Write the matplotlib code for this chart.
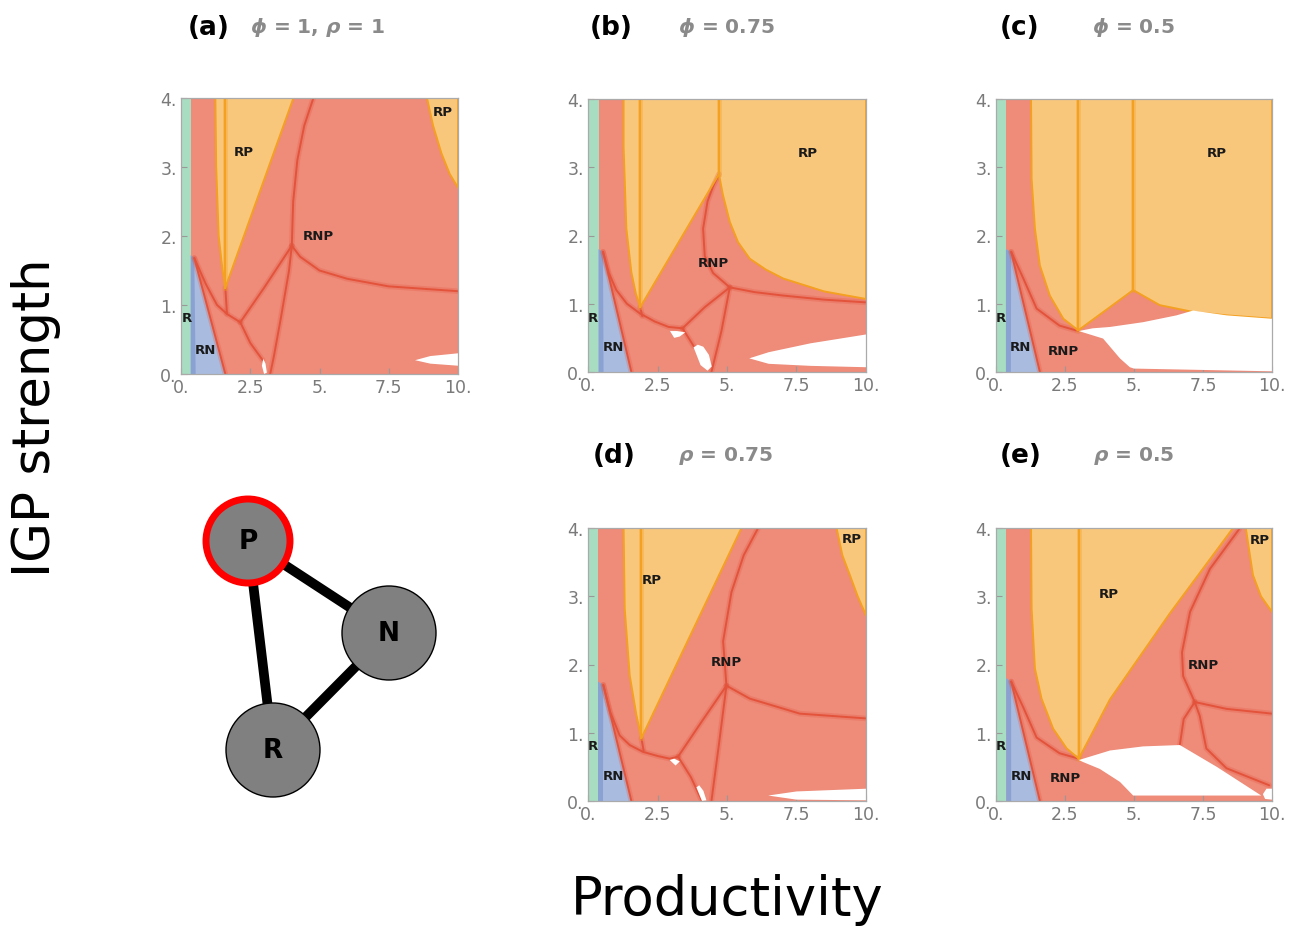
"""
Bifurcation maps of community states (R, RN, RP, RNP)
over productivity and IGP strength, plus the food web sketch.
"""
import matplotlib
matplotlib.use("Agg")
import matplotlib.pyplot as plt
from matplotlib.patches import Circle

plt.rcParams['mathtext.fontset'] = 'custom'
plt.rcParams['mathtext.it'] = 'DejaVu Sans:italic:bold'
plt.rcParams['mathtext.rm'] = 'DejaVu Sans:bold'

W, H = 1298, 929

# ---- colours -------------------------------------------------------------
RED = '#EE8B79'
RED_LINE = '#E3533B'
ORANGE = '#F9C77C'
ORANGE_LINE = '#F4A020'
GREEN = '#A8DDC1'
BLUE = '#A9BCE0'
BLUE_DARK = '#7592CA'

x_ticks = [0, 2.5, 5, 7.5, 10]
x_ticklabels = ['0.', '2.5', '5.', '7.5', '10.']
y_ticks = [0, 1, 2, 3, 4]
y_ticklabels = ['0.', '1.', '2.', '3.', '4.']

# ---- panel (a): phi = 1, rho = 1 -----------------------------------------
a_r_width = 0.35
a_rn = [(0.35, 0), (0.35, 1.72), (0.48, 1.68), (1.6, 0)]
a_rp = [
    [(1.24, 4), (1.27, 3.0), (1.36, 2.0), (1.5, 1.5), (1.6, 1.25), (4.06, 4)],
    [(8.88, 4), (9.1, 3.6), (9.4, 3.2), (9.7, 2.9), (10, 2.7), (10, 4)],
]
a_white = [
    [(2.92, 0.12), (2.97, 0.22), (3.05, 0.15), (3.1, 0.02), (3.0, 0.0)],
    [(8.45, 0.2), (9.0, 0.26), (10, 0.3), (10, 0.12), (9.0, 0.15)],
]
a_rp_lines = [[(1.6, 4), (1.6, 1.25)]]
a_rnp_lines = [
    [(0.48, 1.68), (0.9, 1.3), (1.3, 1.0), (1.66, 0.87), (2.14, 0.75)],
    [(1.6, 1.25), (1.66, 0.87)],
    [(2.14, 0.75), (2.5, 0.45), (2.95, 0.2)],
    [(2.14, 0.75), (3.0, 1.25), (4.0, 1.86)],
    [(4.0, 1.86), (4.05, 2.5), (4.2, 3.1), (4.45, 3.6), (4.78, 4)],
    [(4.0, 1.86), (3.9, 1.5), (3.6, 0.8), (3.35, 0.25), (3.22, 0)],
    [(4.0, 1.86), (4.3, 1.7), (5, 1.5), (6, 1.38), (7.5, 1.27), (10, 1.2)],
    [(0.48, 1.68), (1.6, 0)],
]
a_labels = [('RP', 2.26, 3.22), ('RP', 9.46, 3.8), ('RNP', 4.96, 2.0),
            ('R', 0.2, 0.82), ('RN', 0.88, 0.36)]

# ---- panel (b): phi = 0.75 -----------------------------------------------
b_r_width = 0.38
b_rn = [(0.38, 0), (0.38, 1.8), (0.54, 1.76), (1.56, 0)]
b_rp = [
    [(1.28, 4), (1.28, 3.3), (1.38, 2.1), (1.56, 1.46), (1.72, 1.15), (1.88, 0.95),
     (4.71, 2.9), (4.85, 2.6), (5.1, 2.2), (5.4, 1.9), (5.82, 1.66), (6.4, 1.5),
     (7.02, 1.37), (8.5, 1.18), (10, 1.07), (10, 4)],
]
b_white = [
    [(2.95, 0.6), (3.2, 0.6), (3.5, 0.58), (3.3, 0.52), (3.1, 0.5)],
    [(3.8, 0.36), (3.95, 0.4), (4.15, 0.37), (4.35, 0.25), (4.45, 0.08),
     (4.3, 0.02), (4.05, 0.1)],
    [(5.8, 0.2), (6.5, 0.29), (8, 0.42), (10, 0.55), (10, 0.07), (8, 0.09), (6.5, 0.12)],
]
b_rp_lines = [[(1.88, 4), (1.88, 0.95)], [(4.71, 4), (4.71, 2.9)]]
b_rnp_lines = [
    [(0.54, 1.76), (0.75, 1.45), (1.02, 1.2), (1.4, 1.0), (1.86, 0.86),
     (2.4, 0.74), (2.9, 0.66), (3.4, 0.64)],
    [(1.88, 0.95), (1.95, 0.82)],
    [(3.4, 0.64), (4.2, 0.95), (5.1, 1.24)],
    [(3.4, 0.64), (3.8, 0.38)],
    [(5.1, 1.24), (4.8, 0.6), (4.44, 0)],
    [(5.1, 1.24), (4.5, 1.45), (4.2, 1.7), (4.14, 2.1), (4.3, 2.5), (4.5, 2.72), (4.71, 2.9)],
    [(5.1, 1.24), (6, 1.17), (7.02, 1.12), (8.5, 1.06), (10, 1.02)],
    [(0.54, 1.76), (1.56, 0)],
]
b_labels = [('RP', 7.92, 3.22), ('RNP', 4.5, 1.61), ('R', 0.18, 0.8), ('RN', 0.9, 0.37)]

# ---- panel (c): phi = 0.5 ------------------------------------------------
c_r_width = 0.36
c_rn = [(0.36, 0), (0.36, 1.8), (0.55, 1.76), (1.59, 0)]
c_rp = [
    [(1.27, 4), (1.29, 2.83), (1.41, 2.1), (1.59, 1.56), (1.95, 1.12), (2.44, 0.78),
     (2.98, 0.61), (4.97, 1.2), (5.93, 0.98), (7.14, 0.88), (8.35, 0.83), (10, 0.78),
     (10, 4)],
]
c_white = [
    [(3.0, 0.6), (3.5, 0.64), (4.13, 0.66), (5.33, 0.73), (6.54, 0.83), (7.14, 0.9),
     (8.35, 0.83), (10, 0.78), (10, 0.01), (5.0, 0.05), (4.85, 0.07), (4.49, 0.2),
     (3.88, 0.49)],
]
c_rp_lines = [[(2.98, 4), (2.98, 0.61)], [(4.97, 4), (4.97, 1.2)]]
c_rnp_lines = [
    [(0.55, 1.76), (0.99, 1.37), (1.47, 0.93), (2.3, 0.68), (2.98, 0.6)],
    [(0.55, 1.76), (1.59, 0)],
]
c_labels = [('RP', 7.99, 3.22), ('RNP', 2.44, 0.32), ('R', 0.18, 0.8), ('RN', 0.87, 0.37)]

# ---- panel (d): rho = 0.75 -----------------------------------------------
d_r_width = 0.36
d_rn = [(0.36, 0), (0.36, 1.75), (0.55, 1.7), (1.56, 0)]
d_rp = [
    [(1.28, 4), (1.32, 2.82), (1.5, 1.84), (1.74, 1.26), (1.92, 0.92), (5.52, 4)],
    [(8.94, 4), (9.15, 3.6), (9.42, 3.31), (9.7, 3.0), (10, 2.72), (10, 4)],
]
d_white = [
    [(2.94, 0.6), (3.1, 0.62), (3.3, 0.58), (3.15, 0.52)],
    [(3.9, 0.2), (4.0, 0.23), (4.15, 0.15), (4.26, 0.01), (4.1, 0.0)],
    [(6.48, 0.08), (7.5, 0.14), (10, 0.18), (10, 0.01), (7.5, 0.02)],
]
d_rp_lines = [[(1.92, 4), (1.92, 0.92)]]
d_rnp_lines = [
    [(0.55, 1.7), (0.8, 1.3), (1.14, 0.96), (1.5, 0.82), (1.98, 0.72), (2.5, 0.66),
     (2.94, 0.62), (3.24, 0.65)],
    [(1.92, 0.92), (2.0, 0.74)],
    [(3.24, 0.65), (4.1, 1.17), (4.98, 1.69)],
    [(3.24, 0.65), (3.7, 0.35), (4.1, 0.0)],
    [(4.98, 1.69), (4.7, 0.8), (4.44, 0)],
    [(4.98, 1.69), (4.86, 2.34), (5.16, 3.06), (5.6, 3.6), (6.12, 4)],
    [(4.98, 1.69), (5.82, 1.5), (7.62, 1.28), (10, 1.21)],
    [(0.55, 1.7), (1.56, 0)],
]
d_labels = [('RP', 2.28, 3.24), ('RP', 9.48, 3.84), ('RNP', 4.98, 2.04),
            ('R', 0.16, 0.81), ('RN', 0.9, 0.38)]

# ---- panel (e): rho = 0.5 ------------------------------------------------
e_r_width = 0.37
e_rn = [(0.37, 0), (0.37, 1.8), (0.55, 1.75), (1.59, 0)]
e_rp = [
    [(1.27, 4), (1.29, 2.82), (1.41, 1.94), (1.65, 1.5), (2.07, 1.06), (2.56, 0.77),
     (3.0, 0.62), (4.13, 1.49), (6.3, 2.75), (8.59, 4)],
    [(9.05, 4), (9.2, 3.6), (9.31, 3.31), (9.6, 3.0), (10, 2.77), (10, 4)],
]
e_white = [
    [(3.0, 0.6), (4.13, 0.74), (5.33, 0.8), (6.66, 0.82), (8.0, 0.5), (9.61, 0.08),
     (4.97, 0.08), (4.49, 0.28), (3.76, 0.47), (3.16, 0.57)],
    [(9.67, 0.1), (9.8, 0.18), (10, 0.18), (10, 0.02), (9.75, 0.03)],
]
e_rp_lines = [[(3.0, 4), (3.0, 0.62)]]
e_rnp_lines = [
    [(0.55, 1.75), (0.99, 1.37), (1.47, 0.93), (2.3, 0.7), (3.0, 0.62)],
    [(0.55, 1.75), (1.59, 0)],
    [(6.66, 0.82), (6.8, 1.2), (7.2, 1.45)],
    [(7.2, 1.45), (7.38, 1.25), (7.62, 0.77), (8.35, 0.48), (9.9, 0.23)],
    [(7.2, 1.45), (6.78, 1.83), (6.74, 2.18), (7.03, 2.77), (7.75, 3.4), (8.84, 4)],
    [(7.2, 1.45), (8.35, 1.35), (10, 1.28)],
]
e_labels = [('RP', 4.07, 3.04), ('RP', 9.55, 3.83), ('RNP', 7.5, 2.0),
            ('RNP', 2.5, 0.35), ('R', 0.18, 0.81), ('RN', 0.93, 0.38)]

# panel tags and parameter captions
panel_tags = ['(a)', '(b)', '(c)', '(d)', '(e)']
panel_params = [r'$\phi$ = 1, $\rho$ = 1', r'$\phi$ = 0.75', r'$\phi$ = 0.5',
                r'$\rho$ = 0.75', r'$\rho$ = 0.5']

# food web nodes (pixel layout of the sketch)
web_nodes = {'P': (248, 542, 42), 'N': (389, 634, 47), 'R': (273, 751, 47)}
web_links = [('P', 'N'), ('P', 'R'), ('N', 'R')]


def px_axes(fig, left, top, right, bottom):
    return fig.add_axes([left / W, 1 - bottom / H, (right - left) / W, (bottom - top) / H])


def draw_panel(ax, r_width, rn, rp, white, rp_lines, rnp_lines, labels):
    ax.set_xlim(0, 10)
    ax.set_ylim(0, 4)
    ax.set_facecolor(RED)
    ax.axvspan(0, r_width, color=GREEN, lw=0, zorder=1)
    ax.fill(*zip(*rn), color=BLUE, lw=0, zorder=1)
    # darker band along the left side of RN
    ax.fill([rn[0][0], rn[1][0], rn[2][0], rn[0][0] + 0.18],
            [rn[0][1], rn[1][1], rn[2][1], 0], color=BLUE_DARK, lw=0, alpha=0.6, zorder=1)
    for poly in rp:
        ax.fill(*zip(*poly), color=ORANGE, lw=0, zorder=2)
    for line in rnp_lines:
        xs, ys = zip(*line)
        ax.plot(xs, ys, color=RED_LINE, lw=4, alpha=0.25, zorder=3, solid_capstyle='round')
        ax.plot(xs, ys, color=RED_LINE, lw=1.4, zorder=3, solid_capstyle='round')
    for poly in rp:
        xs, ys = zip(*poly)
        ax.plot(xs, ys, color=ORANGE_LINE, lw=1.4, zorder=3)
    for line in rp_lines:
        xs, ys = zip(*line)
        ax.plot(xs, ys, color=ORANGE_LINE, lw=3.5, alpha=0.35, zorder=3)
        ax.plot(xs, ys, color=ORANGE_LINE, lw=1.5, zorder=3)
    for poly in white:
        ax.fill(*zip(*poly), color='white', lw=0, zorder=4)
    for txt, x, y in labels:
        ax.text(x, y, txt, fontsize=9.5, fontweight='bold', ha='center', va='center',
                color='#1a1a1a', zorder=5)

    ax.set_xticks(x_ticks)
    ax.set_xticklabels(x_ticklabels)
    ax.set_yticks(y_ticks)
    ax.set_yticklabels(y_ticklabels)
    ax.tick_params(direction='in', length=4, width=0.8, color='#999999',
                   labelcolor='#7a7a7a', labelsize=12.5, pad=3)
    for sp in ax.spines.values():
        sp.set_color('#aaaaaa')
        sp.set_linewidth(0.9)
        sp.set_zorder(6)


fig = plt.figure(figsize=(W / 100, H / 100), dpi=100)

axes_px = [(181, 99, 458, 375), (588, 100, 866, 373), (996, 100, 1272, 373),
           (588, 529, 866, 802), (996, 529, 1272, 802)]
panels = [
    (a_r_width, a_rn, a_rp, a_white, a_rp_lines, a_rnp_lines, a_labels),
    (b_r_width, b_rn, b_rp, b_white, b_rp_lines, b_rnp_lines, b_labels),
    (c_r_width, c_rn, c_rp, c_white, c_rp_lines, c_rnp_lines, c_labels),
    (d_r_width, d_rn, d_rp, d_white, d_rp_lines, d_rnp_lines, d_labels),
    (e_r_width, e_rn, e_rp, e_white, e_rp_lines, e_rnp_lines, e_labels),
]
for box, spec in zip(axes_px, panels):
    ax = px_axes(fig, *box)
    draw_panel(ax, *spec)

# panel titles
tag_pos = [(188, 250, 28), (590, 678, 28), (1000, 1092, 28), (593, 678, 456), (1000, 1093, 456)]
for tag, par, (xt, xp, yt) in zip(panel_tags, panel_params, tag_pos):
    fig.text(xt / W, 1 - yt / H, tag, fontsize=19, fontweight='bold', ha='left', va='center')
    fig.text(xp / W, 1 - yt / H, par, fontsize=14.5, fontweight='bold', color='#8a8a8a',
             ha='left', va='center')

# food web sketch
net = px_axes(fig, 170, 470, 470, 820)
net.set_xlim(170, 470)
net.set_ylim(820, 470)
net.set_aspect('equal')
net.axis('off')
for a, b in web_links:
    xa, ya, _ = web_nodes[a]
    xb, yb, _ = web_nodes[b]
    net.plot([xa, xb], [ya, yb], color='black', lw=7, zorder=1)
for name, (x, y, r) in web_nodes.items():
    edge = 'red' if name == 'P' else 'black'
    lw = 5 if name == 'P' else 1
    net.add_patch(Circle((x, y), r, facecolor='#808080', edgecolor=edge, lw=lw, zorder=2))
    net.text(x, y, name, fontsize=19, fontweight='bold', ha='center', va='center', zorder=3)

# shared axis titles
fig.text(50 / W, 1 - 418 / H, 'IGP strength', rotation=90, fontsize=37, family='DejaVu Sans',
         ha='center', va='baseline', rotation_mode='anchor')
fig.text(727 / W, 1 - 915 / H, 'Productivity', fontsize=38, family='DejaVu Sans',
         ha='center', va='baseline')

fig.savefig('out.png', dpi=100)
